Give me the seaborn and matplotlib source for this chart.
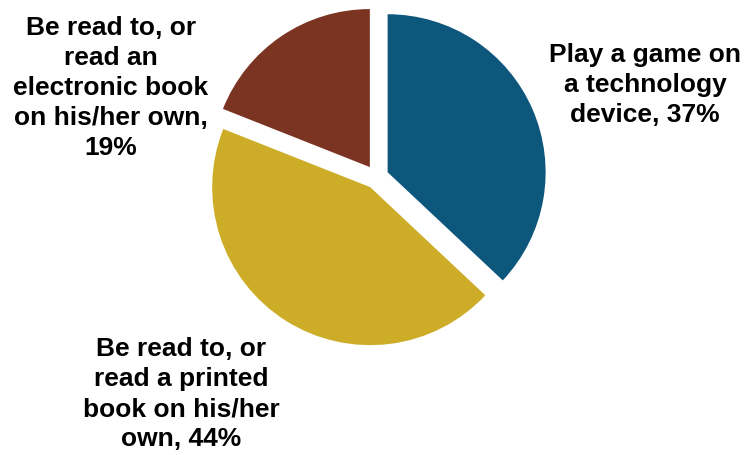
import matplotlib
matplotlib.use("Agg")
import matplotlib.pyplot as plt
import seaborn as sns

# data
activities = ["Play a game on\na technology\ndevice,",
              "Be read to, or\nread a printed\nbook on his/her\nown,",
              "Be read to, or\nread an\nelectronic book\non his/her own,\n"]
shares = [37, 44, 19]
colors = ["#0D567C", "#CDAD28", "#7B3322"]

sns.set_theme(style="white")
plt.rcParams["font.family"] = ["Liberation Sans", "DejaVu Sans"]

W, H = 746, 455
fig = plt.figure(figsize=(W / 100, H / 100), dpi=100)
ax = fig.add_axes([0, 0, 1, 1])

# pie centre and radius in pixels
cx, cy, r = 376.6, 177.0, 158.0

ax.pie(shares, colors=colors, startangle=90, counterclock=False,
       explode=[12 / r] * len(shares), radius=1,
       wedgeprops=dict(linewidth=0))

ax.set_xlim(-cx / r, (W - cx) / r)
ax.set_ylim(-(H - cy) / r, cy / r)
ax.set_aspect("equal")
ax.axis("off")


def px(x, y):
    return (x - cx) / r, (cy - y) / r


label_pos = [(645, 85), (181, 394), (111, 88)]
for name, val, (lx, ly) in zip(activities, shares, label_pos):
    tx, ty = px(lx, ly)
    text = name + ("" if name.endswith("\n") else " ") + f"{val}%"
    ax.text(tx, ty, text, ha="center", va="center", fontsize=19,
            fontweight="bold", linespacing=1.32, color="black")

fig.savefig("out.png", dpi=100)
